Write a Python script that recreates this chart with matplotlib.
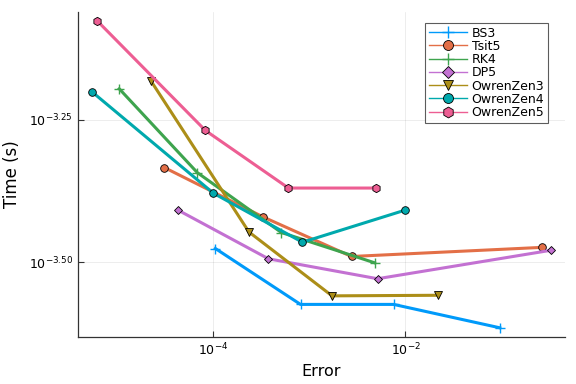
import numpy as np
import matplotlib
matplotlib.use("Agg")
import matplotlib.pyplot as plt
from matplotlib.ticker import FixedLocator, FixedFormatter, NullLocator
from matplotlib.lines import Line2D

# log10 values
names = ["BS3", "Tsit5", "RK4", "DP5", "OwrenZen3", "OwrenZen4", "OwrenZen5"]
bs3_err = [-3.972, -3.089, -2.123, -1.022]
bs3_time = [-3.476, -3.574, -3.574, -3.615]
tsit5_err = [-4.502, -3.473, -2.560, -0.582]
tsit5_time = [-3.334, -3.421, -3.490, -3.474]
rk4_err = [-4.969, -4.159, -3.287, -2.321]
rk4_time = [-3.196, -3.343, -3.448, -3.501]
dp5_err = [-4.356, -3.422, -2.290, -0.488]
dp5_time = [-3.409, -3.494, -3.529, -3.479]
oz3_err = [-4.637, -3.624, -2.762, -1.667]
oz3_time = [-3.183, -3.447, -3.559, -3.558]
oz4_err = [-5.254, -3.993, -3.069, -2.009]
oz4_time = [-3.201, -3.379, -3.465, -3.409]
oz5_err = [-5.197, -4.076, -3.214, -2.310]
oz5_time = [-3.077, -3.269, -3.370, -3.370]

errs = [bs3_err, tsit5_err, rk4_err, dp5_err, oz3_err, oz4_err, oz5_err]
times = [bs3_time, tsit5_time, rk4_time, dp5_time, oz3_time, oz4_time, oz5_time]

colors = ["#009AFA", "#E36F47", "#3EA44E", "#C371D2", "#AC8E18", "#00A9AD", "#ED5E93"]
markers = ["+", "o", "+", "D", "v", "o", "h"]
msizes = [7, 5.5, 7, 4.5, 6, 5.5, 6]

xticks = [1e-4, 1e-2]
xticklabels = [r"$10^{-4}$", r"$10^{-2}$"]
yticks = [10**-3.25, 10**-3.5]
yticklabels = [r"$10^{-3.25}$", r"$10^{-3.50}$"]

fig = plt.figure(figsize=(5.76, 3.84), dpi=100)
ax = fig.add_axes([0.1354, 0.1224, 0.981 - 0.1354, 0.9695 - 0.1224])

handles = []
for name, e, t, c, m, ms in zip(names, errs, times, colors, markers, msizes):
    x = 10 ** np.array(e)
    y = 10 ** np.array(t)
    mec = c if m == "+" else "black"
    mew = 1.0 if m == "+" else 0.6
    ax.plot(x, y, color=c, lw=2.2, marker=m, markersize=ms,
            markeredgecolor=mec, markeredgewidth=mew)
    handles.append(Line2D([], [], color=c, lw=1.0, marker=m, markersize=ms * 1.3,
                          markeredgecolor=mec, markeredgewidth=mew, label=name))

ax.set_xscale("log")
ax.set_yscale("log")
ax.margins(x=0.03, y=0.03)

ax.xaxis.set_major_locator(FixedLocator(xticks))
ax.xaxis.set_major_formatter(FixedFormatter(xticklabels))
ax.yaxis.set_major_locator(FixedLocator(yticks))
ax.yaxis.set_major_formatter(FixedFormatter(yticklabels))
ax.xaxis.set_minor_locator(NullLocator())
ax.yaxis.set_minor_locator(NullLocator())

ax.grid(True, color="black", alpha=0.1, lw=0.5)
ax.tick_params(direction="in", length=4, width=0.8, labelsize=9, color="#333333")
for s in ["top", "right"]:
    ax.spines[s].set_visible(False)
for s in ["left", "bottom"]:
    ax.spines[s].set_color("#333333")
    ax.spines[s].set_linewidth(0.9)

ax.set_xlabel("Error", fontsize=11.5)
ax.set_ylabel("Time (s)", fontsize=12, labelpad=6)

leg = ax.legend(handles=handles, loc="upper right", bbox_to_anchor=(0.965, 0.966),
                fontsize=9, frameon=True, fancybox=False, edgecolor="#333333",
                handlelength=3.0, handletextpad=0.4, labelspacing=0.02,
                borderpad=0.3, borderaxespad=0.0)
leg.get_frame().set_linewidth(0.8)

fig.savefig("out.png", dpi=100)
